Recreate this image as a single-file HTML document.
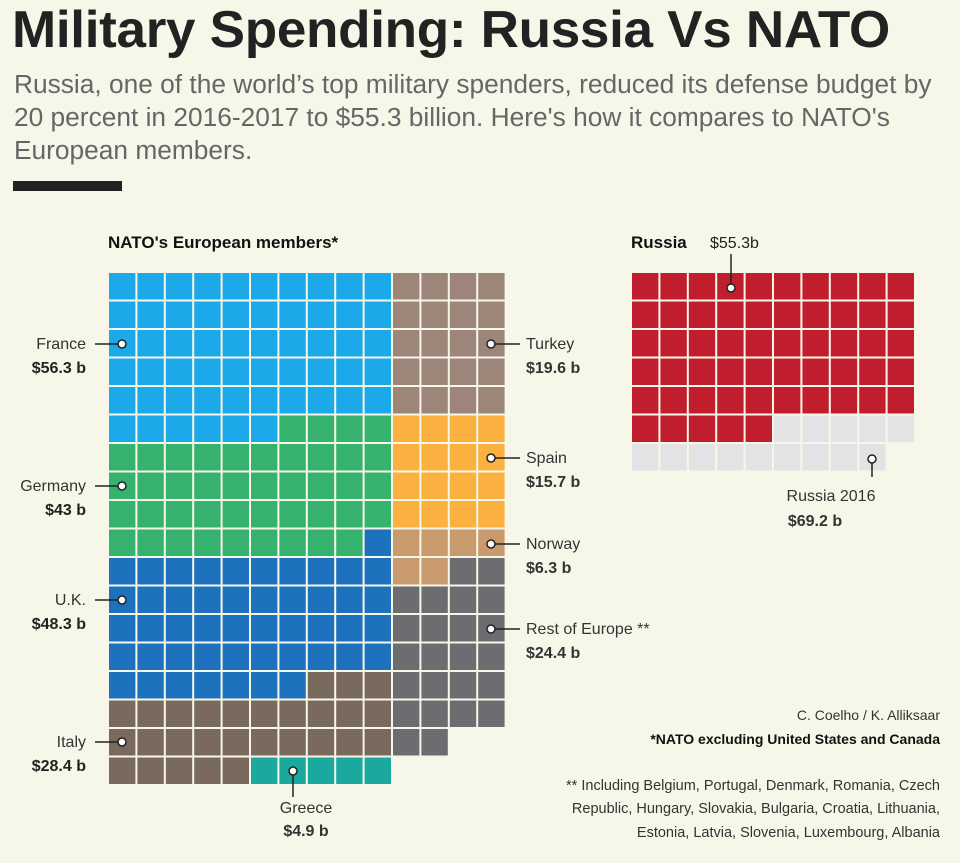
<!DOCTYPE html>
<html><head><meta charset="utf-8">
<style>
html,body{margin:0;padding:0;background:#f7f7e9;}
body{width:960px;height:863px;overflow:hidden;position:relative;font-family:"Liberation Sans",sans-serif;}
.t{position:absolute;white-space:nowrap;}
</style></head>
<body>
<div class="t" style="left:12px;top:0px;font-size:52px;font-weight:bold;color:#222;letter-spacing:-0.3px;transform:scaleX(1.02);transform-origin:0 0;">Military Spending: Russia Vs NATO</div>
<div class="t" style="left:14px;top:68px;font-size:26.3px;line-height:33px;color:#666;">Russia, one of the world’s top military spenders, reduced its defense budget by<br>20 percent in 2016-2017 to $55.3 billion. Here's how it compares to NATO's<br>European members.</div>
<div style="position:absolute;left:13px;top:181px;width:109px;height:10px;background:#222;"></div>
<svg id="c" width="960" height="863" style="position:absolute;left:0;top:0"></svg>
<script>
const natoNames=["France","Germany","U.K.","Italy","Greece"];
const natoValues=[56,43,48,28,5];
const natoLabels=["$56.3 b","$43 b","$48.3 b","$28.4 b","$4.9 b"];
const natoColors=["#1ba9e9","#35b26e","#1e71bd","#7a6a5d","#1ba99f"];
const rightNames=["Turkey","Spain","Norway","Rest of Europe **"];
const rightValues=[20,16,6,24];
const rightLabels=["$19.6 b","$15.7 b","$6.3 b","$24.4 b"];
const rightColors=["#9e857a","#fcb040","#c89a6d","#6d6d71"];
const russiaValues=[55,69];
const svg=document.getElementById('c');
const NS='http://www.w3.org/2000/svg';
const cw=28.4, ch=28.5, x0=108, y0=272;
function rect(x,y,w,h,fill,name){const r=document.createElementNS(NS,'rect');
r.setAttribute('x',x+1);r.setAttribute('y',y+1);r.setAttribute('width',w-2);r.setAttribute('height',h-2);r.setAttribute('fill',fill);


svg.appendChild(r);}
function txt(x,y,s,opt){const t=document.createElementNS(NS,'text');t.setAttribute('x',x);t.setAttribute('y',y);t.textContent=s;
t.setAttribute('font-family','"Liberation Sans",sans-serif');t.setAttribute('font-size',opt.fs||16);t.setAttribute('fill',opt.c||'#333');
if(opt.b)t.setAttribute('font-weight','bold');if(opt.a)t.setAttribute('text-anchor',opt.a);


svg.appendChild(t);}
function dot(x,y){const c=document.createElementNS(NS,'circle');c.setAttribute('cx',x);c.setAttribute('cy',y);c.setAttribute('r',4);c.setAttribute('fill','#fff');c.setAttribute('stroke','#222');c.setAttribute('stroke-width',1.5);


svg.appendChild(c);}
function line(x1,y1,x2,y2){const l=document.createElementNS(NS,'line');l.setAttribute('x1',x1);l.setAttribute('y1',y1);l.setAttribute('x2',x2);l.setAttribute('y2',y2);l.setAttribute('stroke','#222');l.setAttribute('stroke-width',1.5);


svg.appendChild(l);}
let idx=0;
natoValues.forEach((v,i)=>{for(let k=0;k<v;k++){const c=idx%10,r=Math.floor(idx/10);rect(x0+c*cw,y0+r*ch,cw,ch,natoColors[i],'cell-'+natoNames[i].toLowerCase().replace(/\W/g,''));idx++;}});
idx=0;
rightValues.forEach((v,i)=>{for(let k=0;k<v;k++){const c=idx%4,r=Math.floor(idx/4);rect(x0+(10+c)*cw,y0+r*ch,cw,ch,rightColors[i],'cell-'+rightNames[i].toLowerCase().replace(/\W/g,''));idx++;}});
const rx=631;
for(let k=0;k<russiaValues[1];k++){const c=k%10,r=Math.floor(k/10);rect(rx+c*cw,y0+r*ch,cw,ch,k<russiaValues[0]?'#c01e2e':'#e3e3e5',k<russiaValues[0]?'cell-russia':'cell-russia-2016');}
txt(108,248,"NATO's European members*",{fs:17,b:1,c:'#111',n:'nato-heading'});
txt(631,248,"Russia",{fs:17,b:1,c:'#111',n:'russia-heading'});
txt(710,248,"$55.3b",{fs:16,c:'#222',n:'russia-value'});
line(731,254,731,287);dot(731,288);
const leftY=[344,486,600,742];
[0,1,2,3].forEach(i=>{const y=leftY[i];dot(122,y);line(95,y,118,y);txt(86,y+5,natoNames[i],{fs:16,a:'end',c:'#333',n:'label-'+natoNames[i]});txt(86,y+29,natoLabels[i],{fs:16,b:1,a:'end',c:'#222',n:'value-'+natoNames[i]});});
dot(293,771);line(293,775,293,797);
txt(306,813,natoNames[4],{fs:16,a:'middle',n:'label-greece'});txt(306,836,natoLabels[4],{fs:16,b:1,a:'middle',n:'value-greece'});
const rightY=[344,458,544,629];
[0,1,2,3].forEach(i=>{const y=rightY[i];dot(491,y);line(495,y,520,y);txt(526,y+5,rightNames[i],{fs:16,n:'label-'+i});txt(526,y+29,rightLabels[i],{fs:16,b:1,n:'value-'+i});});
dot(872,459);line(872,463,872,477);
txt(831,501,"Russia 2016",{fs:16,a:'middle',n:'label-russia-2016'});txt(815,526,"$69.2 b",{fs:16,b:1,a:'middle',n:'value-russia-2016'});
txt(940,720,"C. Coelho / K.  Alliksaar",{fs:14,a:'end',n:'credit'});
txt(940,744,"*NATO excluding United States and Canada",{fs:14,b:1,a:'end',c:'#111',n:'footnote'});
txt(940,790,"** Including Belgium, Portugal, Denmark, Romania, Czech",{fs:14.5,a:'end',n:'footnote-2'});
txt(940,813,"Republic, Hungary, Slovakia, Bulgaria, Croatia, Lithuania,",{fs:14.5,a:'end',n:'footnote-2b'});
txt(940,837,"Estonia, Latvia, Slovenia, Luxembourg, Albania",{fs:14.5,a:'end',n:'footnote-2c'});
</script>
</body></html>
